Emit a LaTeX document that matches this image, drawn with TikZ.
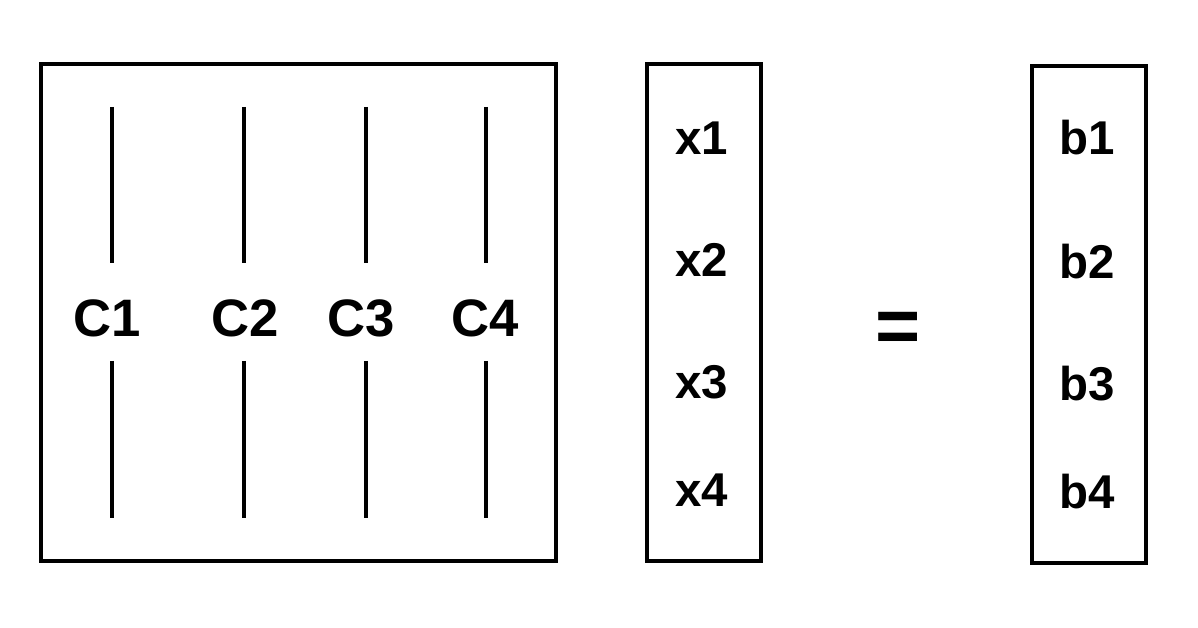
\documentclass[tikz,border=0pt]{standalone}
\usepackage{fontspec}
\setmainfont{Liberation Sans}
\begin{document}
\begin{tikzpicture}[x=0.02cm,y=-0.02cm,
  box/.style={draw=black,line width=2pt,minimum width=2.28cm,minimum height=9.94cm,inner sep=0pt},
  bigbox/.style={draw=black,line width=2pt,minimum width=10.3cm,minimum height=9.94cm,inner sep=0pt},
  col/.style={line width=1.9pt},
  clab/.style={font=\fontsize{30}{36}\selectfont\bfseries,inner sep=0pt},
  vlab/.style={font=\fontsize{27}{32}\selectfont\bfseries,inner sep=0pt}]
\path[use as bounding box,fill=white] (0,0) rectangle (1198,628);
\node[bigbox] (A) at (298.5,312.5) {};
\node[box] (X) at (704,312.5) {};
\node[box] (B) at (1089,314.5) {};
\foreach \xx/\n in {112/1,244/2,366/3,486/4}{
  \draw[col] (\xx,107) -- (\xx,263);
  \draw[col] (\xx,361) -- (\xx,518);
}
\node[clab] (c1) at (107,318) {C1};
\node[clab] (c2) at (245,318) {C2};
\node[clab] (c3) at (361,318) {C3};
\node[clab] (c4) at (485,318) {C4};
\node[vlab] (x1) at (702,138) {x1};
\node[vlab] (x2) at (702,260) {x2};
\node[vlab] (x3) at (702,382) {x3};
\node[vlab] (x4) at (702,490) {x4};
\node[vlab] (b1) at (1087,138) {b1};
\node[vlab] (b2) at (1087,262) {b2};
\node[vlab] (b3) at (1087,384) {b3};
\node[vlab] (b4) at (1087,492) {b4};
\node[font=\fontsize{44}{50}\selectfont\bfseries,inner sep=0pt] (eq) at (898,332) {=};
\end{tikzpicture}
\end{document}
